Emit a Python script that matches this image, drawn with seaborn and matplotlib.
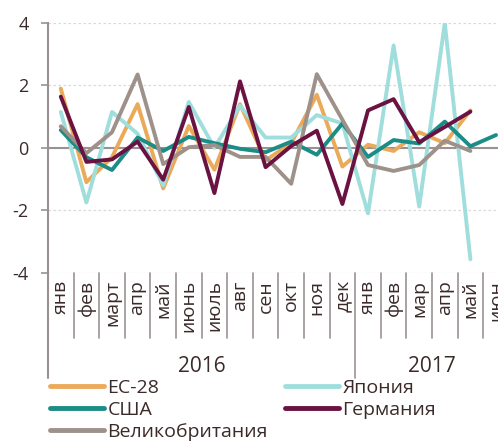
import numpy as np
import pandas as pd
import seaborn as sns
import matplotlib.pyplot as plt
import matplotlib.transforms as mtransforms
from matplotlib.lines import Line2D

# --- data (monthly change, %) ---
months = ["янв", "фев", "март", "апр", "май", "июнь", "июль", "авг", "сен", "окт", "ноя", "дек",
          "янв", "фев", "мар", "апр", "май", "июн"]
years = ["2016", "2017"]

eu28 = [1.9, -1.1, -0.3, 1.4, -1.3, 0.7, -0.7, 1.4, -0.4, 0.15, 1.7, -0.6,
        0.1, -0.1, 0.5, 0.15, 1.2]
japan = [1.15, -1.75, 1.15, 0.45, -1.2, 1.47, 0.0, 1.35, 0.33, 0.33, 1.05, 0.78,
         -2.1, 3.28, -1.88, 4.0, -3.57]
usa = [0.57, -0.3, -0.71, 0.33, -0.1, 0.35, 0.15, -0.03, -0.14, 0.2, -0.22, 0.78,
       -0.29, 0.25, 0.14, 0.84, 0.05, 0.41]
germany = [1.64, -0.45, -0.37, 0.2, -1.02, 1.31, -1.45, 2.13, -0.62, 0.06, 0.55, -1.8,
           1.2, 1.56, 0.18, 0.67, 1.16]
uk = [0.69, -0.17, 0.5, 2.35, -0.52, 0.02, 0.09, -0.29, -0.29, -1.15, 2.36, 0.9,
      -0.55, -0.74, -0.55, 0.23, -0.1]

series = {"ЕС-28": eu28, "Япония": japan, "США": usa, "Великобритания": uk, "Германия": germany}
colors = {"ЕС-28": "#EBAA5A", "Япония": "#A0DEDD", "США": "#1C8C87",
          "Германия": "#6A1241", "Великобритания": "#9E918A"}

rows = []
for name, vals in series.items():
    for i, v in enumerate(vals):
        rows.append({"idx": i, "value": v, "series": name})
df = pd.DataFrame(rows)

# --- style ---
sns.set_style("white")
plt.rcParams["font.family"] = ["Open Sans", "DejaVu Sans"]
plt.rcParams["axes.unicode_minus"] = False
txt = "#3b2a2a"
grey = "#9a9292"

fig = plt.figure(figsize=(4.98, 4.46), dpi=100)
ax = fig.add_axes([48 / 498, 1 - 272.7 / 446, 460.8 / 498, 249.7 / 446])

sns.lineplot(data=df, x="idx", y="value", hue="series", hue_order=list(series.keys()),
             palette=colors, linewidth=2.8, estimator=None, sort=False,
             legend=False, ax=ax, zorder=3)

ax.set_xlim(-0.5, len(months) - 0.5)
ax.set_ylim(-4, 4)
ax.set_xlabel("")
ax.set_ylabel("")

# axes / spines
for s in ["top", "right"]:
    ax.spines[s].set_visible(False)
ax.spines["bottom"].set_position(("data", 0))
ax.spines["bottom"].set_color(grey)
ax.spines["bottom"].set_linewidth(1.5)
ax.spines["left"].set_color(grey)
ax.spines["left"].set_linewidth(1.5)

ax.set_xticks([])
ax.set_xticks(np.arange(0.5, len(months) - 0.5), minor=True)
ax.tick_params(axis="x", which="minor", direction="out", length=5, width=1.2, color=grey)

ax.set_yticks([-4, -2, 0, 2, 4])
ax.set_yticklabels(["-4", "-2", "0", "2", "4"])
ax.tick_params(axis="y", direction="out", length=5, width=1.2, color=grey,
               labelsize=13, labelcolor=txt, pad=9, left=True)

ax.yaxis.grid(True, color="#d8d8d8", linestyle=(0, (2, 2)), linewidth=0.9)
ax.set_axisbelow(True)

# month labels and separators below the plot
trans = mtransforms.blended_transform_factory(ax.transData, ax.transAxes)
for i, m in enumerate(months):
    ax.text(i, -0.03, m, rotation=90, ha="center", va="top", transform=trans,
            fontsize=14, color=txt)
for b in np.arange(0.5, len(months) - 0.5):
    bottom = -0.4217 if b == 11.5 else -0.2615
    ax.plot([b, b], [0, bottom], transform=trans, clip_on=False, color=grey, lw=1.2)
ax.plot([-0.5, -0.5], [0, -0.4217], transform=trans, clip_on=False, color=grey, lw=1.5)

ax.text(5.5, -0.375, years[0], ha="center", va="center", transform=trans, fontsize=15, color=txt)
ax.text(14.5, -0.375, years[1], ha="center", va="center", transform=trans, fontsize=15, color=txt)

# legend in two columns
def handles(names):
    return [Line2D([], [], color=colors[n], lw=3.5) for n in names]

col1 = ["ЕС-28", "США", "Великобритания"]
col2 = ["Япония", "Германия"]
for names, x0 in [(col1, 50 / 498), (col2, 285 / 498)]:
    fig.legend(handles(names), names, loc="upper left", bbox_to_anchor=(x0, 1 - 379 / 446),
               frameon=False, fontsize=14, labelcolor=txt, handlelength=2.8,
               handletextpad=0.15, labelspacing=0.2, borderpad=0, borderaxespad=0)

fig.savefig("out.png", dpi=100)
